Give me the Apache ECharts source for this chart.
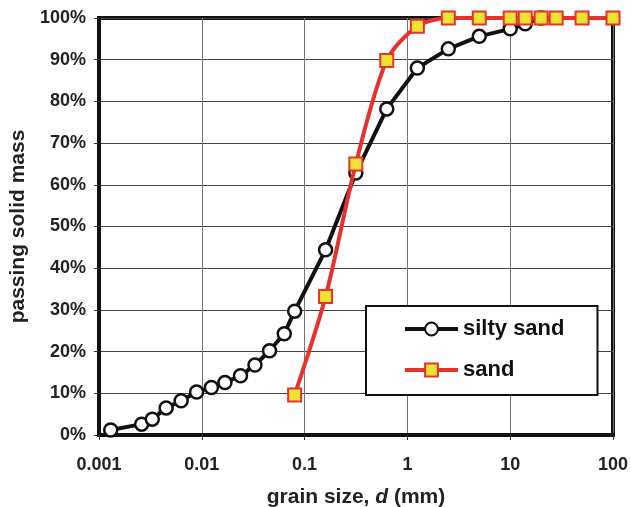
<!DOCTYPE html>
<html><head><meta charset="utf-8">
<script src="https://cdn.jsdelivr.net/npm/echarts@6/dist/echarts.min.js"></script>
<style>html,body{margin:0;padding:0;background:#fff}#c{width:631px;height:507px}</style>
</head><body><div id="c"></div>
<script>
const xTickLabels = ['0.001', '0.01', '0.1', '1', '10', '100'];
const yTickLabels = ['0%','10%','20%','30%','40%','50%','60%','70%','80%','90%','100%'];

const siltySandSize = [0.0013, 0.0026, 0.0033, 0.0045, 0.0063, 0.0089, 0.0124, 0.0168, 0.0238, 0.0329, 0.0456, 0.0634, 0.08, 0.16, 0.315, 0.63, 1.25, 2.5, 5, 10, 14, 20];
const siltySandPass = [1.2, 2.6, 3.8, 6.5, 8.2, 10.3, 11.4, 12.6, 14.2, 16.8, 20.2, 24.3, 29.7, 44.4, 62.8, 78.2, 88.0, 92.6, 95.6, 97.4, 98.6, 100];

const sandSize = [0.08, 0.16, 0.315, 0.63, 1.25, 2.5, 5, 10, 14, 20, 28, 50, 100];
const sandPass = [9.6, 33.2, 65.0, 89.8, 98.0, 100, 100, 100, 100, 100, 100, 100, 100];

const font = '"Liberation Sans", Arial, sans-serif';
const chart = echarts.init(document.getElementById('c'));
chart.setOption({
  animation: false,
  grid: { left: 99, right: 18, top: 18, bottom: 72, outerBoundsMode: 'none', containLabel: false, show: true, borderColor: '#111', borderWidth: 4, backgroundColor: 'transparent' },
  legend: {
    orient: 'vertical', left: 366, top: 306,
    itemWidth: 53, itemHeight: 16, itemGap: 19,
    padding: [12, 33, 14, 37],
    borderColor: '#111', borderWidth: 2, backgroundColor: '#fff',
    lineStyle: { width: 4 },
    textStyle: { fontFamily: font, fontWeight: 'bold', fontSize: 22, color: '#111' },
    data: ['silty sand', 'sand']
  },
  xAxis: {
    type: 'log', logBase: 10, min: 0.001, max: 100,
    axisLine: { show: true, lineStyle: { color: '#111', width: 4 } },
    axisTick: { show: true, length: 5, lineStyle: { color: '#333', width: 1 } },
    minorTick: { show: false },
    splitLine: { show: true, lineStyle: { color: '#777', width: 1 } },
    axisLabel: {
      margin: 21, fontFamily: font, fontWeight: 'bold', fontSize: 18, color: '#222',
      formatter: v => xTickLabels[Math.round(Math.log10(v)) + 3]
    },
    name: '{n|grain size, }{i|d}{n| (mm)}', nameLocation: 'middle', nameGap: 52,
    nameTextStyle: {
      rich: {
        n: { fontFamily: font, fontWeight: 'bold', fontSize: 21, color: '#222' },
        i: { fontFamily: font, fontWeight: 'bold', fontStyle: 'italic', fontSize: 21, color: '#222' }
      }
    }
  },
  yAxis: {
    type: 'value', min: 0, max: 100, interval: 10,
    axisLine: { show: true, lineStyle: { color: '#111', width: 4 } },
    axisTick: { show: true, length: 5, lineStyle: { color: '#333', width: 1 } },
    splitLine: { show: true, lineStyle: { color: '#444', width: 1 } },
    axisLabel: {
      margin: 13, fontFamily: font, fontWeight: 'bold', fontSize: 18, color: '#222',
      formatter: v => yTickLabels[Math.round(v / 10)]
    },
    name: 'passing solid mass', nameLocation: 'middle', nameGap: 63,
    nameTextStyle: { fontFamily: font, fontWeight: 'bold', fontSize: 21, color: '#222' }
  },
  series: [
    {
      name: 'silty sand', type: 'line',
      data: siltySandSize.map((x, i) => [x, siltySandPass[i]]),
      lineStyle: { color: '#111', width: 4 },
      itemStyle: { color: '#fff', borderColor: '#111', borderWidth: 2.5 },
      symbol: 'circle', symbolSize: 13, z: 2
    },
    {
      name: 'sand', type: 'line', smooth: 0.3,
      data: sandSize.map((x, i) => [x, sandPass[i]]),
      lineStyle: { color: '#e5322b', width: 4 },
      itemStyle: { color: '#eee232', borderColor: '#e5322b', borderWidth: 2 },
      symbol: 'rect', symbolSize: 13, z: 3
    }
  ]
});
</script></body></html>
